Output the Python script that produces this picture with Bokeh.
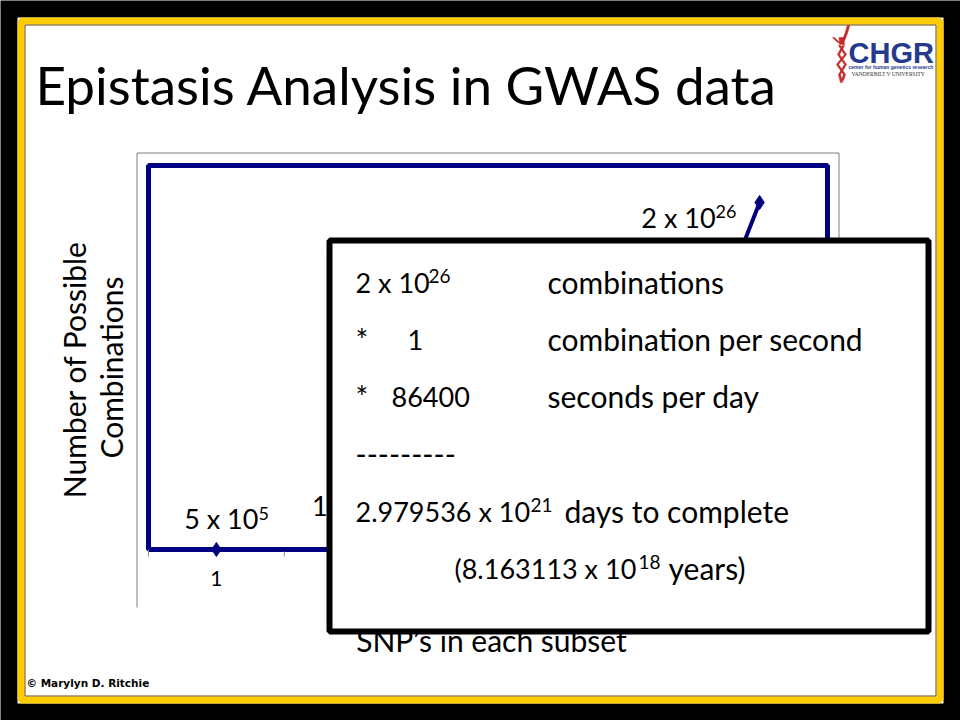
from bokeh.plotting import figure
from bokeh.models import (Range1d, BoxAnnotation, Label, Arrow, ColumnDataSource)
from bokeh.core.properties import value
from bokeh.embed import file_html
from bokeh.resources import INLINE

# Number of possible SNP combinations for subsets of k SNPs (500,000 SNP panel)
subset_size = [1, 2, 3, 4, 5]
combinations = [5e5, 1e11, 2e16, 2e21, 2e26]
label_base = ["5 x 10", "1 x 10", "", "", "2 x 10"]
label_exp = ["5", "11", "", "", "26"]
tick_labels = ["1", "2", "3", "4", "5"]
category_edges = [0.5, 1.5, 2.5, 3.5, 4.5, 5.5]
value_axis_max = 2.213e26

# label placement relative to each point, in pixels (positive dy = down)
label_dx = [42, 34, 0, 0, -44]
label_dy = [-21, -34, 0, 0, 25]

NAVY = "#000080"
FONT = "Lato"
W, H = 960, 720
# svg text with an alphabetic baseline lands this many ems low; compensate
BASE_FIX = 0.36

# plot-area box on the slide, in pixels from the top-left corner
PA_LEFT, PA_RIGHT, PA_TOP, PA_BOTTOM = 148, 827, 165, 549

# the frame spans the whole slide; data ranges are widened so that the
# category / value extents land on the plot-area box
kx = (PA_RIGHT - PA_LEFT) / (category_edges[-1] - category_edges[0])
ky = value_axis_max / (PA_BOTTOM - PA_TOP)
x_range = Range1d(category_edges[0] - PA_LEFT / kx, category_edges[-1] + (W - PA_RIGHT) / kx)
y_range = Range1d(-(H - PA_BOTTOM) * ky, value_axis_max + PA_TOP * ky)

p = figure(width=W, height=H, output_backend="svg", toolbar_location=None,
           x_range=x_range, y_range=y_range,
           x_axis_location=None, y_axis_location=None,
           min_border=0, min_border_left=0, min_border_right=0,
           min_border_top=0, min_border_bottom=0,
           background_fill_color="white", border_fill_color="white")
p.outline_line_color = None
p.grid.visible = False
# pixel coordinate system for slide decorations (y counted from the bottom)
p.extra_x_ranges = {"px": Range1d(0, W)}
p.extra_y_ranges = {"px": Range1d(0, H)}


def Y(v):
    return H - v


def px_box(left, right, top, bottom, **kw):
    opts = dict(fill_color=None, line_alpha=1, fill_alpha=1)
    opts.update(kw)
    b = BoxAnnotation(left=left, right=right, top=Y(top), bottom=Y(bottom),
                      x_range_name="px", y_range_name="px", **opts)
    p.add_layout(b)
    return b


def px_label(x, y, text, size, level="annotation", rotated=False, **kw):
    opts = dict(text_font=FONT, text_font_size=f"{size}px", text_color="black",
                text_baseline="alphabetic")
    opts.update(kw)
    if rotated:
        x -= BASE_FIX * size
    else:
        y -= BASE_FIX * size
    lab = Label(x=x, y=Y(y), text=text, x_range_name="px", y_range_name="px",
                level=level, **opts)
    p.add_layout(lab)
    return lab


def px_line(x0, y0, x1, y1, color, width):
    p.add_layout(Arrow(x_start=x0, y_start=Y(y0), x_end=x1, y_end=Y(y1), end=None,
                       line_color=color, line_width=width,
                       x_range_name="px", y_range_name="px"))


# slide frame: black surround, yellow band, thin dark inner edge
px_box(0, W, 0, H, line_color="black", line_width=34)
px_box(20.5, 939.5, 20.5, 699.5, line_color="#FFCC00", line_width=7)
px_box(24.5, 935.5, 24.5, 695.5, line_color="#6b4a10", line_width=1)

# chart area border
px_line(136.5, 152.5, 838.5, 152.5, "#7f7f7f", 1)
px_line(136.5, 152.5, 136.5, 607, "#7f7f7f", 1)
px_line(838.5, 152.5, 838.5, 250, "#7f7f7f", 1)

# plot area border, placed with the data scales
p.add_layout(BoxAnnotation(left=category_edges[0], right=category_edges[-1],
                           bottom=0, top=value_axis_max, fill_color=None,
                           line_color=NAVY, line_alpha=1, line_width=5,
                           level="underlay"))

# category axis: tick marks between categories and centred labels
p.segment(x0=category_edges, y0=[0] * 6, x1=category_edges, y1=[-7 * ky] * 6,
          line_color="#8c8c8c", line_width=1)
p.text(x=subset_size, y=[0] * 5, text=tick_labels, y_offset=37 - BASE_FIX * 21,
       text_align="center", text_baseline="alphabetic", text_font=value(FONT),
       text_font_size="21px", text_color="black")

# data series
p.line(subset_size, combinations, line_color=NAVY, line_width=4)
p.scatter(subset_size, combinations, marker="diamond", size=14, color=NAVY)

src = ColumnDataSource(dict(x=subset_size, y=combinations, base=label_base,
                            exp=label_exp, dx=label_dx,
                            dy=[d - BASE_FIX * 27 for d in label_dy],
                            dye=[d - 9 - BASE_FIX * 18 for d in label_dy]))
p.text(x="x", y="y", text="base", x_offset="dx", y_offset="dy", source=src,
       text_align="right", text_baseline="alphabetic", text_font=value(FONT),
       text_font_size="27px", text_color="black")
p.text(x="x", y="y", text="exp", x_offset="dx", y_offset="dye", source=src,
       text_align="left", text_baseline="alphabetic", text_font=value(FONT),
       text_font_size="18px", text_color="black")

# title
px_label(35, 103, "Epistasis Analysis in GWAS data", 53)

# axis titles
px_label(84, 369, "Number of Possible", 30, rotated=True, angle=1.5708, text_align="center")
px_label(121, 367, "Combinations", 30, rotated=True, angle=1.5708, text_align="center")
px_label(491, 650, "SNP\u2019s in each subset", 30, text_align="center")

# copyright
px_label(26, 686, "\u00a9 Marylyn D. Ritchie", 10.5, text_font="DejaVu Sans",
         text_font_style="bold")

# CHGR logo
px_label(848, 63, "CHGR", 29, text_font="Liberation Sans", text_font_style="bold",
         text_color="#243a8c")
px_label(848, 68.5, "center for human genetics research", 5, text_font="Liberation Sans",
         text_font_style="bold", text_color="#243a8c")
px_label(851, 75, "VANDERBILT V UNIVERSITY", 5.5, text_font="Liberation Serif",
         text_color="#333333")


def stroke(points, w):
    xs = [x - w / 2 for x, _ in points] + [x + w / 2 for x, _ in reversed(points)]
    ys = [Y(y) for _, y in points] + [Y(y) for _, y in reversed(points)]
    return xs, ys


figure_strokes = [
    ([(848, 25), (846, 32), (843, 40)], 2.5),
    ([(833, 37), (837, 41), (840, 43)], 2.0),
    ([(841, 37), (841.5, 44)], 5.0),
    ([(843, 45), (838, 54), (845, 64), (839, 74), (841, 82)], 2.2),
    ([(839, 45), (845, 54), (837, 64), (844, 74), (842, 80)], 2.2),
]
shapes = [stroke(pts, w) for pts, w in figure_strokes]
p.patches(xs=[s[0] for s in shapes], ys=[s[1] for s in shapes],
          fill_color="#c62b2b", line_color="#c62b2b", line_width=0.5,
          x_range_name="px", y_range_name="px")

# calculation box drawn over the chart
px_box(329, 928, 240, 631, fill_color="white", line_color="black", line_width=6,
       level="overlay")

segments = [
    (355, 292, "2 x 10", 27), (428, 282, "26", 19), (547, 292, "combinations", 30),
    (355, 349, "*", 30), (407, 349, "1", 27), (547, 349, "combination per second", 30),
    (355, 406, "*", 30), (391, 406, "86400", 27), (547, 406, "seconds per day", 30),
    (355, 464, "---------", 30),
    (355, 521, "2.979536 x 10", 27), (530, 511, "21", 19), (564, 521, "days to complete", 30),
    (454, 578, "(8.163113 x 10", 27), (638, 568, "18", 19), (668, 578, "years)", 30),
]
for x, y, t, s in segments:
    px_label(x, y, t, s, level="overlay")

open("out.html", "w").write(file_html(p, INLINE))
